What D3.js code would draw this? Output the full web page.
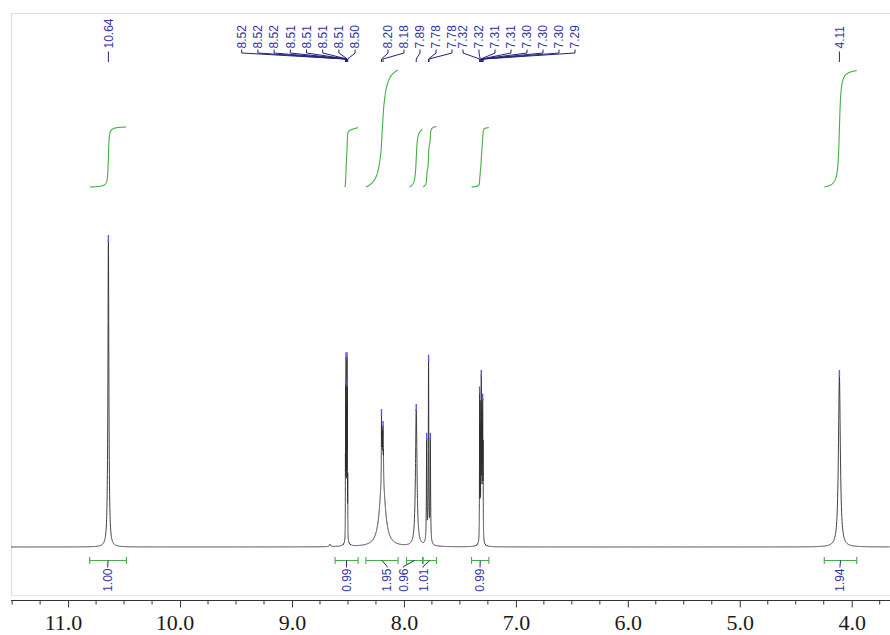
<!DOCTYPE html>
<html><head><meta charset="utf-8">
<script src="https://cdn.jsdelivr.net/npm/d3@7"></script>
<style>html,body{margin:0;padding:0;background:#fff;}svg{display:block;}</style>
</head><body>
<svg id="chart" width="890" height="635"></svg>
<script>
// ---------- DATA ----------
// spectral lines (chemical shift ppm, relative intensity, half-width ppm)
const linePPM    = [10.640, 8.660, 8.512,
  8.5225, 8.5200, 8.5170, 8.5140, 8.5110, 8.5080, 8.5055, 8.5020,
  8.192, 8.2005, 8.1975, 8.1940, 8.1905, 8.1865, 8.1830,
  7.890,
  7.780, 7.797, 7.7800, 7.764,
  7.310, 7.3240, 7.3185, 7.3130, 7.3090, 7.3045, 7.3000, 7.2965, 7.2925,
  4.110];
const lineHeight = [100, 0.8, 1.5,
  23, 45, 53, 37, 36, 52, 44, 19,
  24, 19, 12, 10, 11, 14, 8,
  44.6,
  1.2, 33, 58, 33,
  1.5, 47, 34, 39, 47, 36, 31, 40, 29,
  56];
const lineWidth  = [0.005, 0.006, 0.02,
  0.0008, 0.0008, 0.0008, 0.0008, 0.0008, 0.0008, 0.0008, 0.0008,
  0.028, 0.0012, 0.0012, 0.0012, 0.0012, 0.0012, 0.0012,
  0.008,
  0.02, 0.0025, 0.0025, 0.0025,
  0.02, 0.0012, 0.0012, 0.0012, 0.0012, 0.0012, 0.0012, 0.0012, 0.0012,
  0.010];

// picked peaks (labels on top)
const peakLabelText = ["10.64",
  "8.52","8.52","8.52","8.51","8.51","8.51","8.51","8.50",
  "8.20","8.18","7.89","7.78","7.78",
  "7.32","7.32","7.31","7.31","7.30","7.30","7.30","7.29",
  "4.11"];
const peakLabelPPM = [10.640,
  8.5225, 8.5200, 8.5170, 8.5140, 8.5110, 8.5080, 8.5055, 8.5020,
  8.2005, 8.1865, 7.890, 7.780, 7.776,
  7.3240, 7.3185, 7.3130, 7.3090, 7.3045, 7.3000, 7.2965, 7.2925,
  4.110];
const pickedMarkPPM = [10.640, 8.5170, 8.5080, 8.5200, 8.5055, 8.2005, 8.1865, 7.890,
  7.797, 7.780, 7.764, 7.3240, 7.3090, 7.2965, 4.110];

// integrals
const integralValue = [1.00, 0.99, 1.95, 0.96, 1.01, 0.99, 1.94];
const integralFrom  = [10.807, 8.615, 8.340, 7.977, 7.828, 7.396, 4.245];
const integralTo    = [10.479, 8.409, 8.052, 7.834, 7.709, 7.241, 3.955];
const integralCurveFrom = [10.807, 8.530, 8.340, 7.950, 7.828, 7.396, 4.245];
const integralLabelPPM = [10.646, 8.513, 8.150, 8.005, 7.828, 7.320, 4.105];

// axis ticks
const majorTicks = [11.0, 10.0, 9.0, 8.0, 7.0, 6.0, 5.0, 4.0];
const minorTicks = [11.5, 11.25, 10.75, 10.5, 10.25, 9.75, 9.5, 9.25, 8.75, 8.5, 8.25,
  7.75, 7.5, 7.25, 6.75, 6.5, 6.25, 5.75, 5.5, 5.25, 4.75, 4.5, 4.25, 3.75];

// ---------- LAYOUT ----------
const svg = d3.select("#chart");
const x = d3.scaleLinear().domain([11.51, 3.658]).range([11, 890]);
const y = d3.scaleLinear().domain([0, 100]).range([547, 240]);
const iy = d3.scaleLinear().domain([0, 1]).range([187, 127]);

const labelFont = "'Liberation Sans', Arial, sans-serif";
const blue = "#3434a4", navy = "#23237e", green = "#48ad48";

// frame
svg.append("path").attr("d", "M11.5,595.5 V13.5 H890")
  .attr("fill", "none").attr("stroke", "#dddddd").attr("stroke-width", 1.2);
svg.append("line").attr("x1", 11).attr("x2", 890).attr("y1", 595.5).attr("y2", 595.5)
  .attr("stroke", "#e6e6e6").attr("stroke-width", 1);

// ---------- SPECTRUM ----------
function intensity(p) {
  let s = 0;
  for (let i = 0; i < linePPM.length; i++) {
    const d = (p - linePPM[i]) / lineWidth[i];
    s += lineHeight[i] / (1 + d * d);
  }
  return s;
}
const [pHi, pLo] = x.domain();
let grid = [];
for (let p = pHi; p >= pLo; p -= 0.002) grid.push(p);
linePPM.forEach((c, i) => {
  const w = lineWidth[i];
  if (w < 0.015) {
    const half = Math.max(0.012, 40 * w), st = w / 5;
    for (let p = c - half; p <= c + half; p += st) grid.push(p);
  }
});
grid.sort((a, b) => b - a);
const spec = grid.map(p => [p, intensity(p)]);

svg.append("path")
  .attr("d", d3.line().x(d => x(d[0])).y(d => y(d[1]))(spec))
  .attr("fill", "none").attr("stroke", "#2e2e2e").attr("stroke-width", 0.9);

// picked-peak marks
svg.append("g").selectAll("line").data(pickedMarkPPM).join("line")
  .attr("x1", d => x(d)).attr("x2", d => x(d))
  .attr("y1", d => y(intensity(d)) - 5).attr("y2", d => y(intensity(d)) + 2)
  .attr("stroke", "#5b5bdc").attr("stroke-width", 1.4);

// ---------- INTEGRALS ----------
const ig = svg.append("g");
integralValue.forEach((v, i) => {
  const a = integralFrom[i], b = integralTo[i], ca = integralCurveFrom[i];
  const pts = spec.filter(d => d[0] <= ca && d[0] >= b);
  const cum = [0];
  for (let k = 1; k < pts.length; k++)
    cum.push(cum[k - 1] + (pts[k - 1][0] - pts[k][0]) * (pts[k - 1][1] + pts[k][1]) / 2);
  const tot = cum[cum.length - 1];
  const curve = pts.map((d, k) => [d[0], v * cum[k] / tot]);
  ig.append("path")
    .attr("d", d3.line().x(d => x(d[0])).y(d => iy(d[1]))(curve))
    .attr("fill", "none").attr("stroke", green).attr("stroke-width", 1.1);

  // bracket under the spectrum
  const x1 = x(a), x2 = x(b), by = 560.5;
  ig.append("path")
    .attr("d", `M${x1},${by - 3.5}V${by + 3.5}M${x1},${by}H${x2}M${x2},${by - 3.5}V${by + 3.5}`)
    .attr("fill", "none").attr("stroke", green).attr("stroke-width", 1.1);
  const cx = (x1 + x2) / 2, lx = x(integralLabelPPM[i]);
  ig.append("path")
    .attr("d", `M${cx},${by}L${lx},${by + 6}V${by + 7}`)
    .attr("fill", "none").attr("stroke", navy).attr("stroke-width", 1);
  ig.append("text")
    .attr("transform", `translate(${lx},${by + 8}) rotate(-90)`)
    .attr("text-anchor", "end").attr("dy", "0.36em")
    .attr("font-family", labelFont).attr("font-size", 12).attr("fill", blue)
    .text(d3.format(".2f")(v));
});

// ---------- PEAK LABELS ----------
const slots = [
  {n: 1, x0: null},
  {n: 8, x0: 241.7, dx: 16.2},
  {n: 5, x0: 388, dx: 16},
  {n: 8, x0: 463, dx: 16},
  {n: 1, x0: null}
];
const labelX = [];
let idx = 0;
slots.forEach(s => {
  for (let k = 0; k < s.n; k++, idx++)
    labelX.push(s.x0 === null ? x(peakLabelPPM[idx]) : s.x0 + k * s.dx);
});
const pl = svg.append("g");
peakLabelText.forEach((t, i) => {
  const px = x(peakLabelPPM[i]), lx = labelX[i];
  const single = Math.abs(px - lx) < 0.5;
  pl.append("path")
    .attr("d", single ? `M${px},51.5V62` : `M${lx},49.5V53L${px},59V62`)
    .attr("fill", "none").attr("stroke", navy).attr("stroke-width", 1);
  pl.append("text")
    .attr("transform", `translate(${lx},48.5) rotate(-90)`)
    .attr("text-anchor", "start").attr("dy", "0.36em")
    .attr("font-family", labelFont).attr("font-size", 12).attr("fill", blue)
    .text(t);
});

// ---------- AXIS ----------
const axisG = svg.append("g").attr("transform", "translate(0,600)");
axisG.append("line").attr("x1", 11).attr("x2", 890).attr("y1", 0.5).attr("y2", 0.5)
  .attr("stroke", "#333").attr("stroke-width", 1);
axisG.selectAll("line.minor").data(minorTicks).join("line").attr("class", "minor")
  .attr("x1", d => x(d)).attr("x2", d => x(d)).attr("y1", 0.5).attr("y2", 4.5)
  .attr("stroke", "#333").attr("stroke-width", 1);
const axis = d3.axisBottom(x).tickValues(majorTicks).tickSize(7).tickSizeOuter(0)
  .tickPadding(7).tickFormat(d3.format(".1f"));
const ax = svg.append("g").attr("transform", "translate(0,600.5)").call(axis);
ax.select(".domain").remove();
ax.selectAll(".tick line").attr("stroke", "#333");
ax.selectAll(".tick text")
  .attr("font-family", "'Liberation Serif', 'Times New Roman', serif")
  .attr("font-size", 22).attr("fill", "#1a1a1a")
  .attr("text-anchor", "end").attr("x", 13.75);
</script>
</body></html>
